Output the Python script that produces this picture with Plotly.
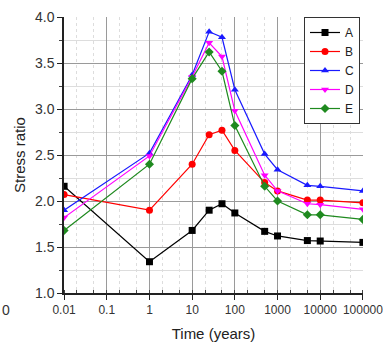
import plotly.graph_objects as go

time_years = [0.01, 1, 10, 25, 50, 100, 500, 1000, 5000, 10000, 100000]
series_A = [2.16, 1.34, 1.68, 1.90, 1.97, 1.87, 1.67, 1.62, 1.57, 1.565, 1.55]
series_B = [2.07, 1.90, 2.40, 2.72, 2.77, 2.55, 2.20, 2.11, 2.01, 2.01, 1.98]
series_C = [1.90, 2.52, 3.37, 3.84, 3.78, 3.21, 2.51, 2.34, 2.17, 2.16, 2.11]
series_D = [1.82, 2.49, 3.35, 3.72, 3.57, 2.98, 2.28, 2.11, 1.97, 1.96, 1.91]
series_E = [1.68, 2.40, 3.33, 3.62, 3.41, 2.82, 2.16, 2.00, 1.85, 1.85, 1.80]

x_tickvals = [0.01, 0.1, 1, 10, 100, 1000, 10000, 100000]
x_ticktext = ["0.01", "0.1", "1", "10", "100", "1000", "10000", "100000"]
y_tickvals = [1.0, 1.5, 2.0, 2.5, 3.0, 3.5, 4.0]
y_ticktext = ["1.0", "1.5", "2.0", "2.5", "3.0", "3.5", "4.0"]

styles = [
    ("A", series_A, "#000000", "square"),
    ("B", series_B, "#ff0000", "circle"),
    ("C", series_C, "#1a1aff", "triangle-up"),
    ("D", series_D, "#ff00ff", "triangle-down"),
    ("E", series_E, "#1f8a1f", "diamond"),
]

fig = go.Figure()
for name, ys, color, sym in styles:
    fig.add_trace(go.Scatter(
        x=time_years, y=ys, name=name, mode="lines+markers",
        line=dict(color=color, width=1.2),
        marker=dict(symbol=sym, size=7, color=color),
    ))

fig.update_layout(
    width=383, height=344,
    margin=dict(l=64, r=20, t=17, b=51, autoexpand=False),
    paper_bgcolor="white", plot_bgcolor="white",
    font=dict(family="Arial, Liberation Sans, sans-serif", size=14, color="#333333"),
    showlegend=True,
    legend=dict(
        x=0.99, y=1.0, xanchor="right", yanchor="top",
        bgcolor="white", bordercolor="#333333", borderwidth=1,
        font=dict(size=12, color="#222222"),
        tracegroupgap=0, itemwidth=30,
    ),
)

fig.update_xaxes(
    type="log", range=[-2.002, 5.002],
    tickvals=x_tickvals, ticktext=x_ticktext,
    tickfont=dict(size=12, color="#333333"),
    tickangle=0,
    ticklabeloverflow="allow",
    automargin=False,
    showline=True, linecolor="#222222", linewidth=1.5, mirror=False,
    ticks="outside", ticklen=5, tickcolor="#222222",
    showgrid=True, gridcolor="#9a9a9a", gridwidth=1,
    minor=dict(showgrid=True, gridcolor="#dddddd", griddash="dot",
               ticks="inside", ticklen=3, tickcolor="#444444"),
    title=dict(text="Time (years)", font=dict(size=15, color="#222222"), standoff=12),
    zeroline=False,
)
fig.update_yaxes(
    range=[1.0, 4.0],
    tickvals=y_tickvals, ticktext=y_ticktext,
    tickfont=dict(size=14, color="#333333"),
    automargin=False,
    showline=True, linecolor="#222222", linewidth=1.5,
    ticks="outside", ticklen=5, tickcolor="#222222",
    showgrid=True, gridcolor="#9a9a9a", gridwidth=1,
    minor=dict(dtick=0.25, showgrid=True, gridcolor="#dddddd",
               ticks="outside", ticklen=3, tickcolor="#444444"),
    title=dict(text="Stress ratio", font=dict(size=15, color="#222222"), standoff=6),
    zeroline=False,
)

fig.add_annotation(xref="paper", yref="paper", x=-64/299, y=-0.025,
                   xanchor="left", yanchor="top", text="0", showarrow=False,
                   font=dict(size=14, color="#333333"))

fig.write_html("out.html",
               config={"displayModeBar": False},
               post_script="document.body.style.margin='0';document.body.style.overflow='hidden';")
